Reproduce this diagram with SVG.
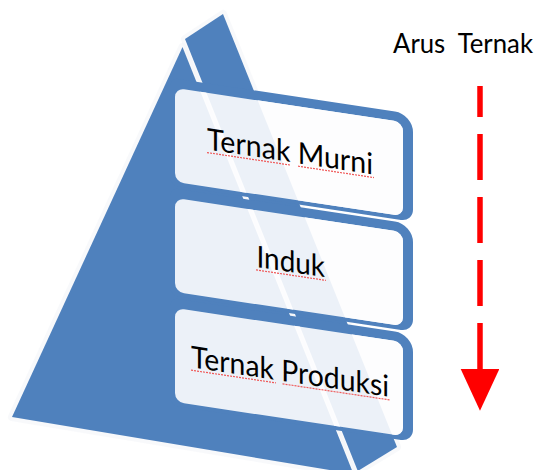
<svg xmlns="http://www.w3.org/2000/svg" width="535" height="470" viewBox="0 0 535 470">
<style>
.blue{fill:#4F81BD}
.face{fill:#FDFDFE;fill-opacity:0.9}
.lbl{font-family:Lato,"Open Sans","Liberation Sans",sans-serif;font-size:30px;fill:#000}
.sq{stroke:#F05A5A;stroke-width:1.2;stroke-dasharray:2 1;fill:none}
.top{font-family:Lato,"Open Sans","Liberation Sans",sans-serif;font-size:26px;fill:#000}
</style>
<defs>
<marker id="ah" markerUnits="userSpaceOnUse" markerWidth="44" markerHeight="40" refX="0" refY="19.3" orient="auto">
<path d="M0,0 L41.7,19.3 L0,38.6 Z" fill="#FF0000"/>
</marker>
<path id="frame" fill-rule="evenodd" d="M178,52.25 H395 A18,18 0 0 1 413,70.25 V147.75 A12,12 0 0 1 401,159.75 H178 A8,8 0 0 1 170,151.75 V60.25 A8,8 0 0 1 178,52.25 Z M184,61.75 H394 A9,9 0 0 1 403,70.75 V146.75 A9,9 0 0 1 394,155.75 H184 A9,9 0 0 1 175,146.75 V70.75 A9,9 0 0 1 184,61.75 Z"/>
<rect id="face" x="175" y="61.75" width="228" height="94" rx="9"/>
</defs>
<rect width="535" height="470" fill="#fff"/>
<g id="pyramid">
<polygon points="182.5,47 12,417 353.5,474" fill="none" stroke="#F2F4F7" stroke-width="8" stroke-linejoin="round" opacity="0.5"/>
<polygon points="185,39 223,14 397,447 357.8,471" fill="none" stroke="#F2F4F7" stroke-width="8" stroke-linejoin="round" opacity="0.5"/>
<polygon class="blue" points="182.5,47 12,417 353.5,474"/>
<polygon class="blue" points="185,39 223,14 397,447 357.8,471"/>
</g>
<g id="box1" transform="skewY(8.53)">
<use href="#frame" class="blue"/>
<use href="#face" class="face"/>
<text class="lbl" x="207" y="118.5" textLength="166" lengthAdjust="spacingAndGlyphs">Ternak Murni</text>
<path class="sq" d="M207,121.5 H291 M298,121.5 H374"/>
</g>
<g id="box2" transform="translate(0,110) skewY(8.53)">
<use href="#frame" class="blue"/>
<use href="#face" class="face"/>
<text class="lbl" x="256.5" y="118.5" textLength="68.5" lengthAdjust="spacingAndGlyphs">Induk</text>
<path class="sq" d="M256,121.5 H326"/>
</g>
<g id="box3" transform="translate(0,220) skewY(8.53)">
<use href="#frame" class="blue"/>
<use href="#face" class="face"/>
<text class="lbl" x="191" y="118.5" textLength="198" lengthAdjust="spacingAndGlyphs">Ternak Produksi</text>
<path class="sq" d="M191,121.5 H276 M282.5,121.5 H390"/>
</g>
<g id="label">
<text class="top" x="393" y="53" textLength="140" lengthAdjust="spacingAndGlyphs" xml:space="preserve" style="white-space:pre">Arus  Ternak</text>
</g>
<g id="connectors">
<line x1="480" y1="86" x2="480" y2="369" stroke="#FF0000" stroke-width="5.5" stroke-dasharray="46 17" stroke-dashoffset="15" marker-end="url(#ah)"/>
</g>
</svg>
